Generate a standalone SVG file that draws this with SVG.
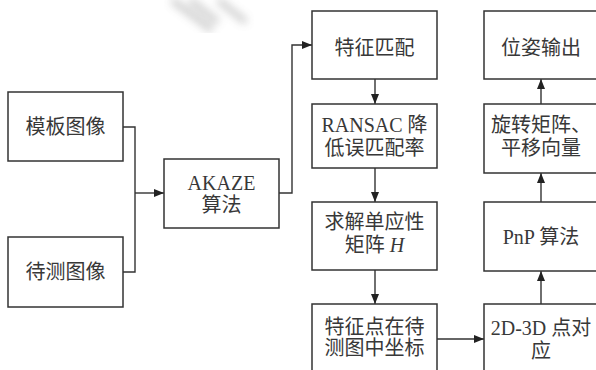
<svg xmlns="http://www.w3.org/2000/svg" width="596" height="370" viewBox="0 0 596 370">
<style>
.box{fill:#fff;stroke:#333;stroke-width:1.5}
.t{font-family:"Liberation Serif","Noto Sans CJK SC",serif;font-size:20px;fill:#383838;text-anchor:middle}
.c{fill:none;stroke:#333;stroke-width:1.4}
</style>
<defs>
<marker id="a" viewBox="0 0 10 8" refX="10" refY="4" markerWidth="10" markerHeight="8" markerUnits="userSpaceOnUse" orient="auto">
<path d="M0,0 L10,4 L0,8 Z" fill="#222"/>
</marker>
<filter id="blur"><feGaussianBlur stdDeviation="4"/></filter>
</defs>
<rect width="596" height="370" fill="#fff"/>
<g id="watermark" filter="url(#blur)" opacity="0.45" stroke="#888" stroke-width="6" fill="none">
<path d="M172,0 L212,30"/>
<path d="M190,0 L218,22"/>
<path d="M218,0 L246,22"/>
</g>
<g id="connectors">
<path class="c" d="M123,127 H135 V272 H123"/>
<path class="c" d="M135,193 H164" marker-end="url(#a)"/>
<path class="c" d="M279,193 H292 V45 H312" marker-end="url(#a)"/>
<path class="c" d="M375,79 V104" marker-end="url(#a)"/>
<path class="c" d="M375,168 V202" marker-end="url(#a)"/>
<path class="c" d="M375,270 V304" marker-end="url(#a)"/>
<path class="c" d="M437,339 H484" marker-end="url(#a)"/>
<path class="c" d="M541,304 V271" marker-end="url(#a)"/>
<path class="c" d="M541,202 V173" marker-end="url(#a)"/>
<path class="c" d="M541,104 V79" marker-end="url(#a)"/>
</g>
<g id="n1"><rect class="box" x="8" y="92" width="115" height="69"/><text class="t" x="65.5" y="134">模板图像</text></g>
<g id="n2"><rect class="box" x="8" y="237" width="115" height="70"/><text class="t" x="65.5" y="279">待测图像</text></g>
<g id="n3"><rect class="box" x="164" y="159" width="115" height="69"/><text class="t" x="221.5" y="190">AKAZE</text><text class="t" x="221.5" y="212">算法</text></g>
<g id="n4"><rect class="box" x="312" y="11" width="125" height="68"/><text class="t" x="374.5" y="55">特征匹配</text></g>
<g id="n5"><rect class="box" x="312" y="104" width="125" height="64"/><text class="t" x="374.5" y="132">RANSAC 降</text><text class="t" x="374.5" y="155">低误匹配率</text></g>
<g id="n6"><rect class="box" x="312" y="202" width="125" height="68"/><text class="t" x="374.5" y="229">求解单应性</text><text class="t" x="374.5" y="252">矩阵 <tspan font-style="italic">H</tspan></text></g>
<g id="n7"><rect class="box" x="312" y="304" width="125" height="70"/><text class="t" x="374.5" y="334">特征点在待</text><text class="t" x="374.5" y="355">测图中坐标</text></g>
<g id="n8"><rect class="box" x="484" y="11" width="114" height="68"/><text class="t" x="541" y="55">位姿输出</text></g>
<g id="n9"><rect class="box" x="484" y="104" width="114" height="69"/><text class="t" x="541" y="132">旋转矩阵、</text><text class="t" x="541" y="155">平移向量</text></g>
<g id="n10"><rect class="box" x="484" y="202" width="114" height="69"/><text class="t" x="541" y="244">PnP 算法</text></g>
<g id="n11"><rect class="box" x="484" y="304" width="114" height="70"/><text class="t" x="541" y="335">2D-3D 点对</text><text class="t" x="541" y="358">应</text></g>
</svg>
